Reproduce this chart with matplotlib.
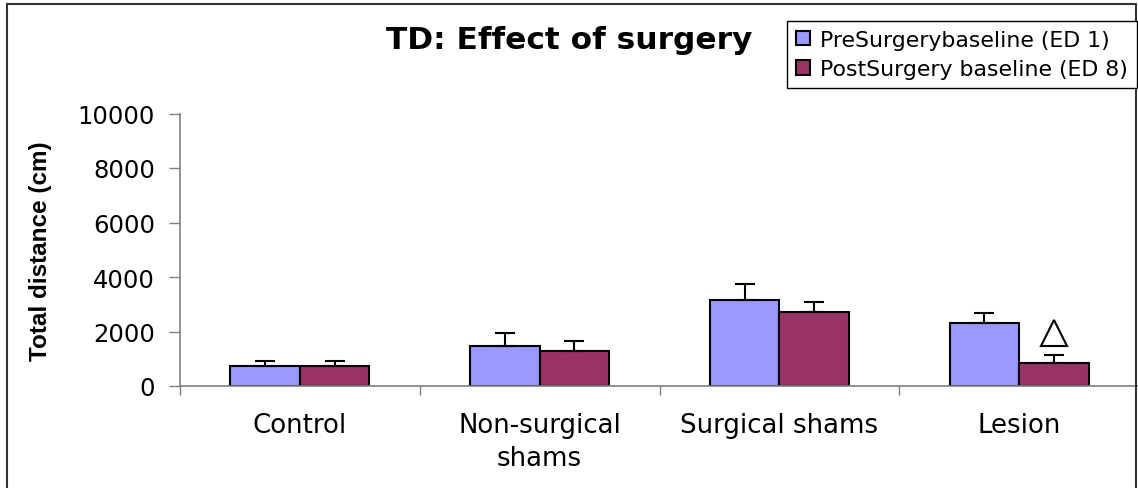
import numpy as np
import matplotlib
matplotlib.use("Agg")
import matplotlib.pyplot as plt
from matplotlib.patches import Rectangle

plt.rcParams['font.family'] = ['DejaVu Sans']

# data
groups = ['Control', 'Non-surgical\nshams', 'Surgical shams', 'Lesion']
pre = [720, 1450, 3150, 2300]
pre_err = [185, 490, 610, 380]
post = [720, 1270, 2730, 830]
post_err = [185, 380, 360, 320]
labels = ['PreSurgerybaseline (ED 1)', 'PostSurgery baseline (ED 8)']
# significance mark (lesion, post surgery)
mark_group = [3]
mark_value = [1940]

fig = plt.figure(figsize=(11.38, 4.89), dpi=100)
ax = fig.add_axes([180/1138, 102/489, 959/1138, 272.5/489])

x = np.arange(len(groups))
w = 0.29
ax.bar(x - w/2, pre, w, color='#9999FF', edgecolor='black', linewidth=1.5, label=labels[0],
       yerr=[np.zeros(len(pre)), pre_err], error_kw=dict(ecolor='black', elinewidth=1.5, capsize=7, capthick=1.5))
ax.bar(x + w/2, post, w, color='#993366', edgecolor='black', linewidth=1.5, label=labels[1],
       yerr=[np.zeros(len(post)), post_err], error_kw=dict(ecolor='black', elinewidth=1.5, capsize=7, capthick=1.5))

ax.plot(np.array(mark_group) + w/2, mark_value, marker='^', markersize=19, markerfacecolor='white',
        markeredgecolor='black', markeredgewidth=1.5, linestyle='none', clip_on=False)

ax.set_xlim(-0.5, 3.5)
ax.set_ylim(0, 10000)
ax.set_yticks(np.arange(0, 10001, 2000))
ax.tick_params(axis='y', labelsize=17.5, length=8, width=1, color='gray', pad=10)

# boundaries get the tick marks, categories get the labels
ax.set_xticks(np.arange(-0.5, 4, 1))
ax.set_xticklabels([])
ax.tick_params(axis='x', which='major', length=6.5, width=1, color='gray')
ax.set_xticks(x, minor=True)
ax.set_xticklabels(groups, minor=True, fontsize=18.7, linespacing=1.32)
ax.tick_params(axis='x', which='minor', length=0, pad=19)

for s in ['top', 'right']:
    ax.spines[s].set_visible(False)
for s in ['left', 'bottom']:
    ax.spines[s].set_color('gray')
    ax.spines[s].set_linewidth(1.2)

fig.text(40.5/1138, 1 - 251.5/489, 'Total distance (cm)', rotation=90, fontsize=17.5,
         fontweight='bold', family='Liberation Sans', ha='center', va='center')
fig.text(569/1138, 1 - 49.3/489, 'TD: Effect of surgery', fontsize=22.5, fontweight='bold',
         ha='center', va='baseline')

leg = fig.legend(loc='upper right', bbox_to_anchor=(1137/1138, 1 - 22/489), fontsize=15.8,
                 frameon=True, fancybox=False, edgecolor='black', framealpha=1,
                 handlelength=0.65, handleheight=0.65, handletextpad=0.45,
                 borderpad=0.4, labelspacing=0.42, borderaxespad=0)
leg.get_frame().set_linewidth(1)

# outer chart frame
fig.patches.append(Rectangle((7/1138, -0.05), 1129/1138, 1.05 - 5/489, transform=fig.transFigure,
                             fill=False, edgecolor='#333333', linewidth=1.5))

plt.savefig('out.png', dpi=100)
